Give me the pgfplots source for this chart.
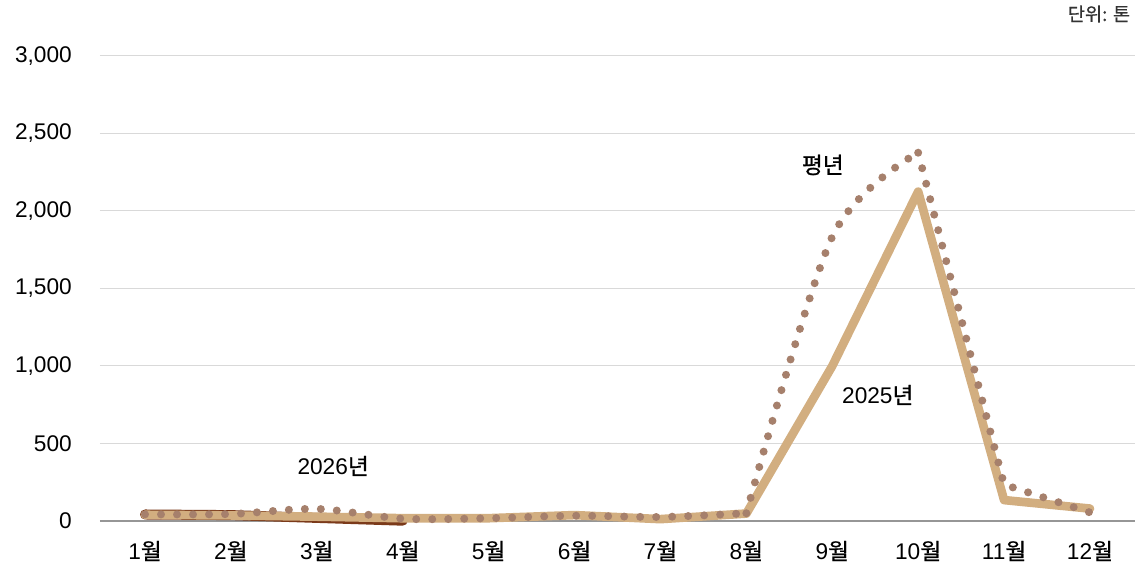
\documentclass[border=0pt]{standalone}
\usepackage{fontspec}
\usepackage{pgfplots}
\pgfplotsset{compat=1.18}
\setmainfont{Liberation Sans}
\newfontfamily\kr[FakeBold=0.8]{Noto Sans CJK KR}
\definecolor{avg}{RGB}{166,128,108}
\definecolor{y25}{RGB}{210,174,128}
\definecolor{y26}{RGB}{123,58,26}
\definecolor{gridc}{RGB}{217,217,217}
\definecolor{axc}{RGB}{150,150,150}
\begin{document}
\begin{tikzpicture}
\useasboundingbox (-75pt,-34.5pt) rectangle (785.25pt,390.75pt);
\begin{axis}[
  at={(0,0)}, anchor=south west,
  scale only axis,
  width=776.25pt, height=348.75pt,
  xmin=0.476, xmax=12.524,
  ymin=0, ymax=3000,
  clip=false,
  axis lines*=left,
  x axis line style={draw=axc, line width=1.5pt},
  y axis line style={draw=none},
  ymajorgrids,
  grid style={draw=gridc, line width=0.75pt},
  major tick length=0pt,
  xtick={1,...,12},
  xticklabels={{1{\kr 월}},{2{\kr 월}},{3{\kr 월}},{4{\kr 월}},{5{\kr 월}},{6{\kr 월}},{7{\kr 월}},{8{\kr 월}},{9{\kr 월}},{10{\kr 월}},{11{\kr 월}},{12{\kr 월}}},
  ytick={0,500,1000,1500,2000,2500,3000},
  scaled y ticks=false,
  /pgf/number format/.cd, 1000 sep={,}, assume math mode=true,
  /pgfplots/.cd,
  every tick label/.append style={font=\fontsize{17}{20}\selectfont, text=black},
  xticklabel style={anchor=center, inner sep=0pt, yshift=-22.5pt},
  yticklabel style={anchor=east, inner sep=0pt, xshift=-21pt},
]
% 2026
\addplot[y26, line width=7.5pt, line cap=round, line join=round] coordinates {
 (1,42) (2,38) (3,20) (4,2)};
% 2025
\addplot[y25, line width=6.5pt, line cap=round, line join=round] coordinates {
 (1,40) (2,36) (3,28) (4,18) (5,18) (6,38) (7,12) (8,48) (9,1000) (10,2125) (11,135) (12,80)};
% average (normal year)
\addplot[avg, line width=6pt, line cap=round, dash pattern=on 0pt off 12pt, smooth, tension=0.5] coordinates {
 (1,43) (2,45) (3,78) (4,15) (5,18) (6,34) (7,26) (8,50)};
\addplot[avg, line width=6pt, line cap=round, dash pattern=on 0pt off 12pt, smooth, tension=0.5] coordinates {
 (8,50) (9,1834) (10,2376)};
\addplot[avg, line width=6pt, line cap=round, dash pattern=on 0pt off 12pt, sharp plot] coordinates {
 (10,2376) (11,235) (12,55)};
\node[font=\fontsize{17}{20}\selectfont\kr] at (axis cs:8.89,2297) {평년};
\node[font=\fontsize{17}{20}\selectfont] at (axis cs:9.53,813) {2025{\kr 년}};
\node[font=\fontsize{17}{20}\selectfont] at (axis cs:3.19,355) {2026{\kr 년}};
\node[font=\fontsize{14}{16}\selectfont\kr, anchor=east, inner sep=0pt, text=black!80] at (axis cs:12.47,3271) {단위: 톤};
\end{axis}
\end{tikzpicture}
\end{document}
